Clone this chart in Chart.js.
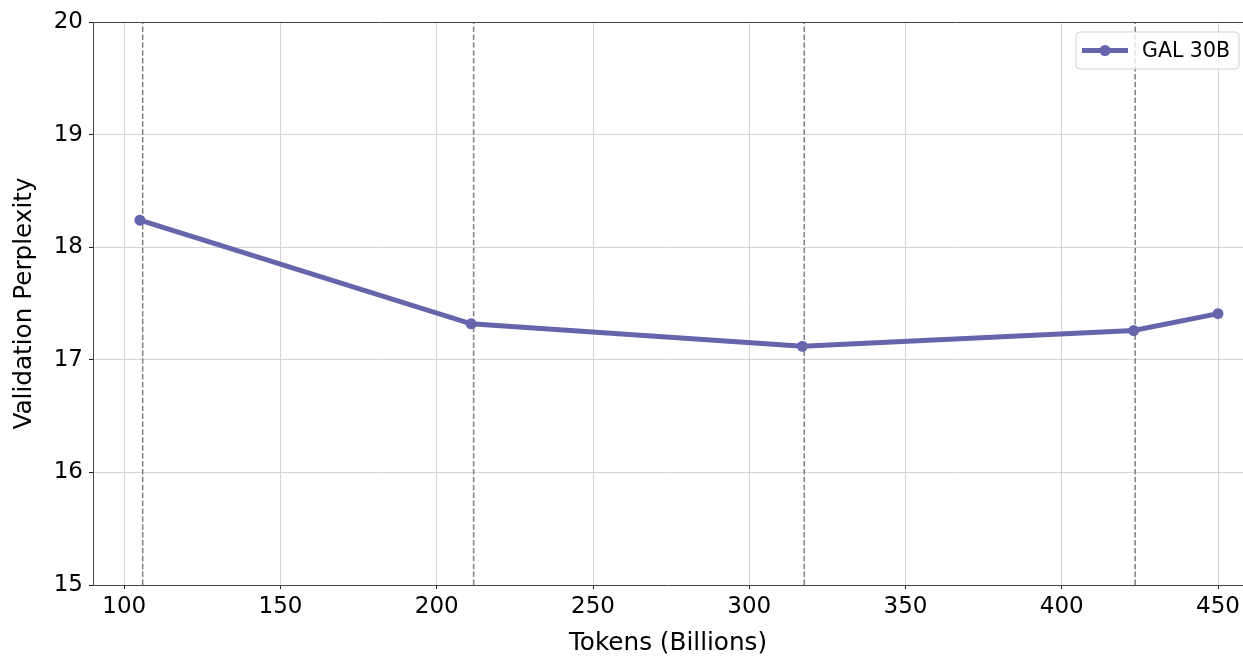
<!DOCTYPE html>
<html>
<head>
<meta charset="utf-8">
<script src="https://cdn.jsdelivr.net/npm/chart.js@4.4.1/dist/chart.umd.min.js"></script>
<style>
  html, body { margin: 0; padding: 0; background: #ffffff; overflow: hidden; }
  #wrap { width: 1243px; height: 656px; position: relative; overflow: hidden; }
  canvas { display: block; }
</style>
</head>
<body>
<div id="wrap"><canvas id="c" width="1243" height="656"></canvas></div>
<script>
// ---- data ----
const seriesLabel = 'GAL 30B';
const tokens = [105, 211, 317, 423, 450];
const perplexity = [18.24, 17.32, 17.12, 17.26, 17.41];
const epochBoundaries = [105.9, 211.8, 317.6, 423.5];
const xTicks = [100, 150, 200, 250, 300, 350, 400, 450];
const yTicks = [15, 16, 17, 18, 19, 20];
const xLabel = 'Tokens (Billions)';
const yLabel = 'Validation Perplexity';

const FONT = "'DejaVu Sans', sans-serif";
const lineColor = '#6565ab';

const mainDataset = {
  label: seriesLabel,
  data: tokens.map((t, i) => ({ x: t, y: perplexity[i] })),
  borderColor: lineColor,
  backgroundColor: lineColor,
  borderWidth: 5,
  pointRadius: 5.5,
  pointHoverRadius: 5.5,
  pointBorderWidth: 0,
  pointBackgroundColor: lineColor,
  tension: 0,
  fill: false
};

const epochDatasets = epochBoundaries.map(b => ({
  label: '_epoch',
  data: [{ x: b, y: yTicks[0] }, { x: b, y: yTicks[yTicks.length - 1] }],
  borderColor: '#7f7f7f',
  borderWidth: 1.5,
  borderDash: [5.5, 2.4],
  pointRadius: 0,
  pointHoverRadius: 0,
  fill: false
}));

const frameAndLegend = {
  id: 'frameAndLegend',
  afterDatasetsDraw(chart) {
    const ctx = chart.ctx;
    const a = chart.chartArea;
    ctx.save();
    // top spine
    ctx.strokeStyle = '#444444';
    ctx.lineWidth = 1;
    ctx.beginPath();
    ctx.moveTo(a.left, a.top + 0.5);
    ctx.lineTo(a.right, a.top + 0.5);
    ctx.stroke();

    // legend box
    const ds = chart.data.datasets[0];
    ctx.font = '20.5px ' + FONT;
    const tw = ctx.measureText(ds.label).width;
    const boxRight = a.right - 4;
    const boxTop = a.top + 10;
    const boxH = 37;
    const sampleW = 46;
    const boxW = 6 + sampleW + 14 + tw + 9;
    const boxLeft = boxRight - boxW;
    const r = 4;
    ctx.beginPath();
    ctx.moveTo(boxLeft + r, boxTop);
    ctx.lineTo(boxRight - r, boxTop);
    ctx.quadraticCurveTo(boxRight, boxTop, boxRight, boxTop + r);
    ctx.lineTo(boxRight, boxTop + boxH - r);
    ctx.quadraticCurveTo(boxRight, boxTop + boxH, boxRight - r, boxTop + boxH);
    ctx.lineTo(boxLeft + r, boxTop + boxH);
    ctx.quadraticCurveTo(boxLeft, boxTop + boxH, boxLeft, boxTop + boxH - r);
    ctx.lineTo(boxLeft, boxTop + r);
    ctx.quadraticCurveTo(boxLeft, boxTop, boxLeft + r, boxTop);
    ctx.closePath();
    ctx.fillStyle = 'rgba(255,255,255,0.8)';
    ctx.fill();
    ctx.strokeStyle = 'rgba(204,204,204,0.9)';
    ctx.lineWidth = 1;
    ctx.stroke();

    const cy = boxTop + boxH / 2;
    const sx = boxLeft + 6;
    ctx.strokeStyle = ds.borderColor;
    ctx.lineWidth = ds.borderWidth;
    ctx.beginPath();
    ctx.moveTo(sx, cy);
    ctx.lineTo(sx + sampleW, cy);
    ctx.stroke();
    ctx.fillStyle = ds.borderColor;
    ctx.beginPath();
    ctx.arc(sx + sampleW / 2, cy, ds.pointRadius, 0, Math.PI * 2);
    ctx.fill();

    ctx.fillStyle = '#000000';
    ctx.textBaseline = 'middle';
    ctx.textAlign = 'left';
    ctx.fillText(ds.label, sx + sampleW + 14, cy + 1);
    ctx.restore();
  }
};

new Chart(document.getElementById('c'), {
  type: 'line',
  data: { datasets: [mainDataset, ...epochDatasets] },
  options: {
    responsive: false,
    animation: false,
    events: [],
    layout: { autoPadding: false, padding: { left: 0, top: 22, right: 0, bottom: 0 } },
    plugins: {
      legend: { display: false },
      tooltip: { enabled: false }
    },
    scales: {
      x: {
        type: 'linear',
        min: 90,
        max: 458,
        afterBuildTicks: s => { s.ticks = xTicks.map(v => ({ value: v })); },
        afterFit: s => { s.height = 71; s.paddingLeft = 0; s.paddingRight = 0; },
        grid: { color: '#d4d4d4', lineWidth: 1, tickColor: '#222', tickLength: 4, drawTicks: true },
        border: { color: '#444444', width: 1 },
        ticks: { color: '#000', font: { family: FONT, size: 23 }, padding: 4, maxRotation: 0 },
        title: { display: true, text: xLabel, color: '#000', font: { family: FONT, size: 24.7, lineHeight: 1.0 }, padding: { top: 0, bottom: 0 } }
      },
      y: {
        type: 'linear',
        min: yTicks[0],
        max: yTicks[yTicks.length - 1],
        afterBuildTicks: s => { s.ticks = yTicks.map(v => ({ value: v })); },
        afterFit: s => { s.width = 93; s.paddingTop = 0; s.paddingBottom = 0; },
        grid: { color: '#d4d4d4', lineWidth: 1, tickColor: '#222', tickLength: 4, drawTicks: true },
        border: { color: '#444444', width: 1 },
        ticks: { color: '#000', font: { family: FONT, size: 23 }, padding: 6 },
        title: { display: true, text: yLabel, color: '#000', font: { family: FONT, size: 24.7 }, padding: { top: 10, bottom: 0 } }
      }
    }
  },
  plugins: [frameAndLegend]
});
</script>
</body>
</html>
